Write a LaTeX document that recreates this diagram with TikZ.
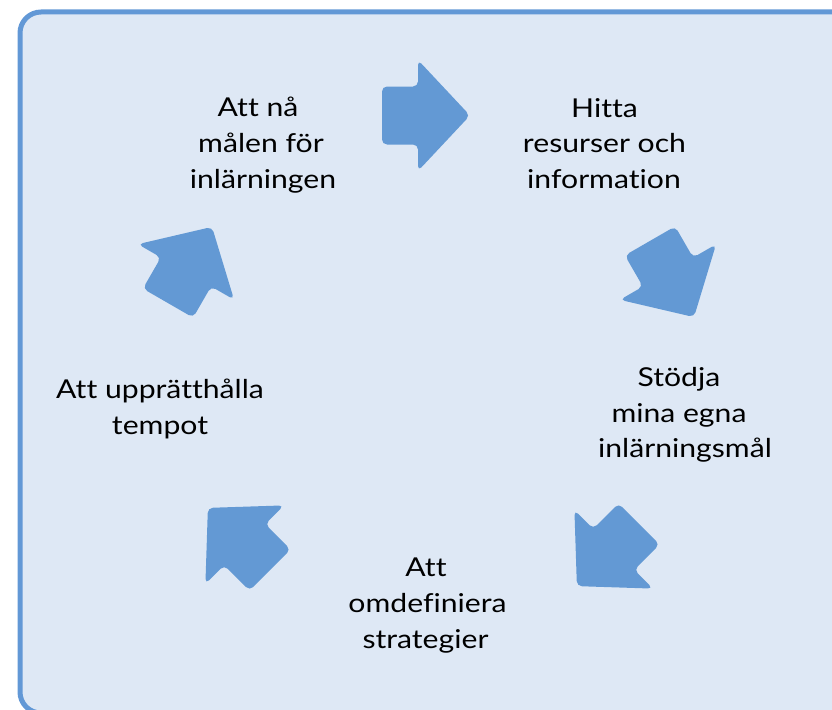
\documentclass[tikz,border=0pt]{standalone}
\usepackage{fontspec}
\setmainfont{Lato}[FakeStretch=1.16, Ligatures=NoCommon]
\definecolor{panelfill}{RGB}{222,232,245}
\definecolor{panelline}{RGB}{98,152,214}
\definecolor{arrowfill}{RGB}{99,153,212}
\tikzset{
  panel/.style={draw=panelline, fill=panelfill, line width=5pt, rounded corners=21pt},
  cyclearrow/.style={fill=arrowfill, draw=none, rounded corners=5pt},
  lbl/.style={anchor=base, inner sep=0pt, text=black, font=\fontsize{26}{32}\selectfont}
}
% one block arrow of the cycle, pointing along local +x
\newcommand{\cyclearrowpath}{%
  (-44,29) -- (-8,29) -- (-8,55.5) -- (44,0) -- (-8,-55.5) -- (-8,-29) -- (-44,-29) -- cycle}
\begin{document}
\begin{tikzpicture}[x=1pt,y=-1pt]
\useasboundingbox (0,0) rectangle (832,709);
\clip (0,0) rectangle (832,709);
\draw[panel] (20,12) rectangle (870,713);

% arrows around the cycle
\path[cyclearrow, shift={(426,115.5)}, rotate=0]   \cyclearrowpath;
\path[cyclearrow, shift={(672,279)},   rotate=-60] \cyclearrowpath;
\path[cyclearrow, shift={(608,555)},   rotate=-135]\cyclearrowpath;
\path[cyclearrow, shift={(239,539)},   rotate=135] \cyclearrowpath;
\path[cyclearrow, shift={(190,265)},   rotate=60]  \cyclearrowpath;

% step labels
\node[lbl] (goalA) at (258,116) {Att nå};
\node[lbl] (goalB) at (261,152) {målen för};
\node[lbl] (goalC) at (263,188) {inlärningen};

\node[lbl] (findA) at (604.5,117) {Hitta};
\node[lbl] (findB) at (604.5,152.5) {resurser och};
\node[lbl] (findC) at (604,188) {information};

\node[lbl] (supA) at (679,386) {Stödja};
\node[lbl] (supB) at (679,422) {mina egna};
\node[lbl] (supC) at (685,457) {inlärningsmål};

\node[lbl] (redA) at (426,576) {Att};
\node[lbl] (redB) at (427.5,612) {omdefiniera};
\node[lbl] (redC) at (425.5,648) {strategier};

\node[lbl] (paceA) at (160,398) {Att upprätthålla};
\node[lbl] (paceB) at (160,434) {tempot};
\end{tikzpicture}
\end{document}
